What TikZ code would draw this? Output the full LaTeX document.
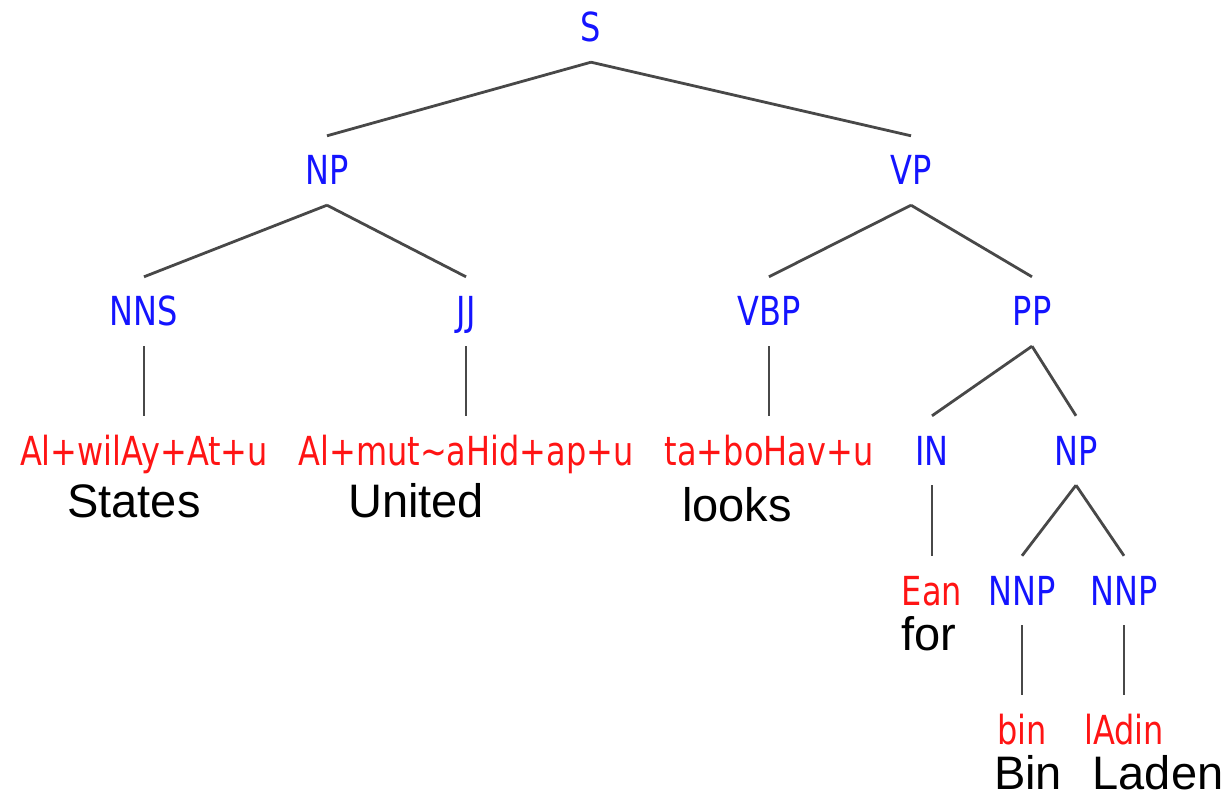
\documentclass[tikz,border=0pt]{standalone}
\usepackage{fontspec}
\setmainfont{Liberation Sans}
\newfontfamily\tagfont[FakeStretch=0.8]{DejaVu Sans}
\definecolor{tagblue}{RGB}{20,20,255}
\definecolor{leafred}{RGB}{255,20,20}
\definecolor{linegray}{RGB}{72,72,72}
\tikzset{
  tag/.style={anchor=base, text=tagblue, font={\tagfont\fontsize{40}{40}\selectfont},
    text height=29pt, text depth=0pt, inner xsep=0pt, inner ysep=20pt},
  leaf/.style={tag, text=leafred},
  gloss/.style={anchor=base, font={\fontsize{47}{47}\selectfont}, inner sep=0pt},
  branch/.style={draw=linegray, line width=2.8pt}
}
\begin{document}
\begin{tikzpicture}[x=1pt, y=-1pt]
\useasboundingbox (0,0) rectangle (1232,799);
% phrase labels
\node[tag] (S)    at (591,42)  {S};
\node[tag] (NP)   at (327,185) {NP};
\node[tag] (VP)   at (911,185) {VP};
\node[tag] (NNS)  at (144,326) {NNS};
\node[tag] (JJ)   at (466,326) {JJ};
\node[tag] (VBP)  at (769,326) {VBP};
\node[tag] (PP)   at (1032,326) {PP};
\node[tag] (IN)   at (932,465) {IN};
\node[tag] (NPb)  at (1076,465) {NP};
\node[tag] (NNPa) at (1022,605) {NNP};
\node[tag] (NNPb) at (1124,605) {NNP};
% transliterated words
\node[leaf] (w1) at (144,465) {Al+wilAy+At+u};
\node[leaf] (w2) at (466,465) {Al+mut\textasciitilde aHid+ap+u};
\node[leaf] (w3) at (769,465) {ta+boHav+u};
\node[leaf] (w4) at (932,605) {Ean};
\node[leaf] (w5) at (1022,744) {bin};
\node[leaf] (w6) at (1124,744) {lAdin};
% English glosses
\node[gloss] (g1) at (134,517)  {States};
\node[gloss] (g2) at (416,517)  {United};
\node[gloss] (g3) at (737,521)  {looks};
\node[gloss] (g4) at (929,650)  {for};
\node[gloss] (g5) at (1028,789) {Bin};
\node[gloss] (g6) at (1158,789) {Laden};
% branches
\draw[branch] (S.south) -- (NP.north);
\draw[branch] (S.south) -- (VP.north);
\draw[branch] (NP.south) -- (NNS.north);
\draw[branch] (NP.south) -- (JJ.north);
\draw[branch] (VP.south) -- (VBP.north);
\draw[branch] (VP.south) -- (PP.north);
\draw[branch] (NNS.south) -- (w1.north);
\draw[branch] (JJ.south) -- (w2.north);
\draw[branch] (VBP.south) -- (w3.north);
\draw[branch] (PP.south) -- (IN.north);
\draw[branch] (PP.south) -- (NPb.north);
\draw[branch] (IN.south) -- (w4.north);
\draw[branch] (NPb.south) -- (NNPa.north);
\draw[branch] (NPb.south) -- (NNPb.north);
\draw[branch] (NNPa.south) -- (w5.north);
\draw[branch] (NNPb.south) -- (w6.north);
\end{tikzpicture}
\end{document}
